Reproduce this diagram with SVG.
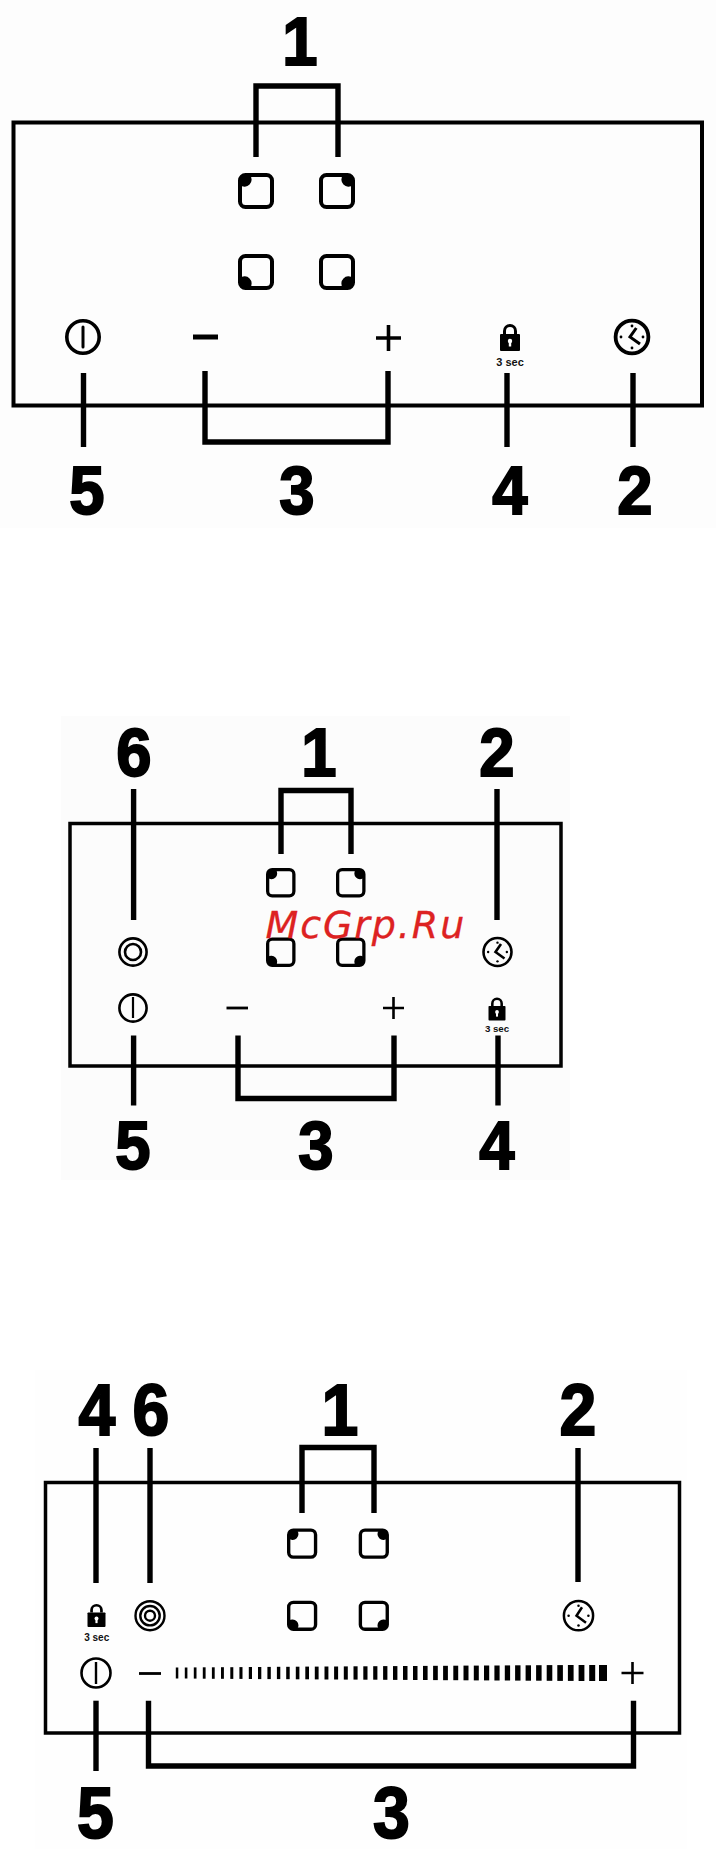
<svg xmlns="http://www.w3.org/2000/svg" width="716" height="1849" viewBox="0 0 716 1849">
<style>
.frame{fill:none;stroke:#000}
.conn{fill:none;stroke:#000;stroke-width:5.4;stroke-miterlimit:10}
.num{font-family:"Liberation Sans",Arial,sans-serif;font-weight:700;font-size:69px;text-anchor:middle;fill:#000;stroke:#000;stroke-width:2px}
.num3{font-size:72px}
.sec{font-family:"Liberation Sans",Arial,sans-serif;font-weight:700;text-anchor:middle;fill:#111}
.ln{fill:none;stroke:#000}
.wm{font-family:"DejaVu Sans",sans-serif;font-style:oblique;font-size:38px;letter-spacing:1.9px;fill:#dd2222;stroke:#dd2222;stroke-width:.3px}
</style>
<defs>
<g id="tile"><rect x="2" y="2" width="32" height="32" rx="5.5" fill="none" stroke="#000" stroke-width="4"/></g>
<path id="dot" d="M2 7A5 5 0 0 1 7 2H12A7.1 7.1 0 0 1 2 12Z" fill="#000"/>
<g id="lock"><path d="M-5.5 0V-3A5.5 5.5 0 0 1 5.5 -3V0" fill="none" stroke="#000" stroke-width="3"/><rect x="-10" y="0" width="20" height="17" rx="1" fill="#000"/><circle cx="0" cy="7" r="2.2" fill="#fff"/><rect x="-1.2" y="7" width="2.4" height="5.5" fill="#fff"/></g>
<g id="clockmarks"><circle cx="0" cy="-11" r="1.4"/><circle cx="0" cy="11" r="1.4"/><circle cx="-11" cy="0" r="1.4"/><circle cx="11" cy="0" r="1.4"/></g>
</defs>
<g id="background">
<rect x="0" y="0" width="716" height="528" fill="#fdfdfd"/>
<rect x="61" y="716" width="509" height="464" fill="#fcfcfc"/>
<rect x="35" y="1370" width="652" height="479" fill="#fefefe"/>
</g>

<g id="diagram-1">
<rect id="d1-frame" class="frame" stroke-width="4" x="13.5" y="122.5" width="688.5" height="283"/>
<g id="d1-tile-1" transform="translate(238,173)"><use href="#tile"/><use href="#dot"/></g>
<g id="d1-tile-2" transform="translate(319,173)"><use href="#tile"/><use href="#dot" transform="rotate(90 18 18)"/></g>
<g id="d1-tile-3" transform="translate(238,254)"><use href="#tile"/><use href="#dot" transform="rotate(270 18 18)"/></g>
<g id="d1-tile-4" transform="translate(319,254)"><use href="#tile"/><use href="#dot" transform="rotate(180 18 18)"/></g>
<g id="d1-power"><circle class="ln" cx="83" cy="337" r="16.2" stroke-width="3.6"/><path class="ln" d="M83 327V347" stroke-width="3" stroke-linecap="round"/></g>
<g id="d1-minus"><path class="ln" d="M193 337H218" stroke-width="5"/></g>
<g id="d1-plus"><path class="ln" d="M376 338H401M388.5 325V351" stroke-width="3.6"/></g>
<g id="d1-lock"><use href="#lock" x="510" y="334"/><text class="sec" x="510" y="366" font-size="11">3 sec</text></g>
<g id="d1-clock" transform="translate(632,337)"><circle class="ln" r="16.4" stroke-width="3.8"/><use href="#clockmarks"/><path class="ln" d="M4.3 -9L-2 0L8 7" stroke-width="3"/></g>
<g id="d1-label-1"><text class="num" transform="translate(300,65) scale(.92,1)">1</text></g>
<g id="d1-label-5"><text class="num" transform="translate(87,514) scale(.92,1)">5</text></g>
<g id="d1-label-3"><text class="num" transform="translate(297,514) scale(.92,1)">3</text></g>
<g id="d1-label-4"><text class="num" transform="translate(510,514) scale(.92,1)">4</text></g>
<g id="d1-label-2"><text class="num" transform="translate(635,514) scale(.92,1)">2</text></g>
</g>

<g id="diagram-2">
<rect id="d2-frame" class="frame" stroke-width="3.5" x="70" y="823.5" width="491" height="242.5"/>
<g id="d2-tile-1" transform="translate(266,868) scale(.82)"><use href="#tile"/><use href="#dot"/></g>
<g id="d2-tile-2" transform="translate(336,868) scale(.82)"><use href="#tile"/><use href="#dot" transform="rotate(90 18 18)"/></g>
<g id="d2-tile-3" transform="translate(266,937.5) scale(.82)"><use href="#tile"/><use href="#dot" transform="rotate(270 18 18)"/></g>
<g id="d2-tile-4" transform="translate(336,937.5) scale(.82)"><use href="#tile"/><use href="#dot" transform="rotate(180 18 18)"/></g>
<g id="d2-rings"><circle class="ln" cx="133" cy="952" r="13.6" stroke-width="2.6"/><circle class="ln" cx="133" cy="952" r="8" stroke-width="2.6"/></g>
<g id="d2-power"><circle class="ln" cx="133" cy="1008" r="13.6" stroke-width="2.6"/><path class="ln" d="M133 997V1018" stroke-width="2.2"/></g>
<g id="d2-minus"><path class="ln" d="M226.5 1008H248" stroke-width="2.8"/></g>
<g id="d2-plus"><path class="ln" d="M383 1008H404M393.5 997V1019" stroke-width="2.6"/></g>
<g id="d2-lock"><use href="#lock" transform="translate(497,1006) scale(.85)"/><text class="sec" x="497" y="1032" font-size="9.7">3 sec</text></g>
<g id="d2-clock" transform="translate(497.5,952)"><circle class="ln" r="14" stroke-width="2.6"/><use href="#clockmarks" transform="scale(.85)"/><path class="ln" d="M3.5 -8L-2 0L7 6.5" stroke-width="2.6"/></g>
<g id="d2-label-6"><text class="num" transform="translate(134,776) scale(.92,1)">6</text></g>
<g id="d2-label-1"><text class="num" transform="translate(319,776) scale(.92,1)">1</text></g>
<g id="d2-label-2"><text class="num" transform="translate(497,776) scale(.92,1)">2</text></g>
<g id="d2-label-5"><text class="num" transform="translate(133,1168.5) scale(.92,1)">5</text></g>
<g id="d2-label-3"><text class="num" transform="translate(316,1168.5) scale(.92,1)">3</text></g>
<g id="d2-label-4"><text class="num" transform="translate(497,1168.5) scale(.92,1)">4</text></g>
</g>

<g id="diagram-3">
<rect id="d3-frame" class="frame" stroke-width="3.5" x="45.5" y="1482.5" width="634" height="250.5"/>
<g id="d3-tile-1" transform="translate(287,1528.5) scale(.84)"><use href="#tile"/><use href="#dot"/></g>
<g id="d3-tile-2" transform="translate(358.7,1528.5) scale(.84)"><use href="#tile"/><use href="#dot" transform="rotate(90 18 18)"/></g>
<g id="d3-tile-3" transform="translate(287,1600.7) scale(.84)"><use href="#tile"/><use href="#dot" transform="rotate(270 18 18)"/></g>
<g id="d3-tile-4" transform="translate(358.7,1600.7) scale(.84)"><use href="#tile"/><use href="#dot" transform="rotate(180 18 18)"/></g>
<g id="d3-lock"><use href="#lock" transform="translate(96.5,1612.5) scale(.9,.85)"/><text class="sec" x="96.7" y="1640.5" font-size="10">3 sec</text></g>
<g id="d3-rings"><circle class="ln" cx="150" cy="1615.7" r="14.5" stroke-width="2.4"/><circle class="ln" cx="150" cy="1615.7" r="9.7" stroke-width="2.4"/><circle class="ln" cx="150" cy="1615.7" r="5" stroke-width="2.4"/></g>
<g id="d3-power"><circle class="ln" cx="96" cy="1673" r="14.5" stroke-width="2.6"/><path class="ln" d="M96 1662V1684" stroke-width="2.4"/></g>
<g id="d3-minus"><path class="ln" d="M139 1673.5H161" stroke-width="2.8"/></g>
<g id="d3-plus"><path class="ln" d="M621.5 1673H643.5M632.5 1662V1684" stroke-width="2.6"/></g>
<g id="d3-clock" transform="translate(578.5,1615.7)"><circle class="ln" r="14.6" stroke-width="2.5"/><use href="#clockmarks" transform="scale(.9)"/><path class="ln" d="M3.5 -8.5L-2 0L7.5 7" stroke-width="2.5"/></g>
<g id="d3-slider" fill="#000">
<rect x="175.8" y="1667.5" width="2.5" height="11"/><rect x="184.8" y="1667.5" width="2.6" height="11"/><rect x="193.8" y="1667.4" width="2.7" height="11.2"/><rect x="202.8" y="1667.3" width="2.8" height="11.4"/><rect x="211.9" y="1667.3" width="2.8" height="11.5"/><rect x="221" y="1667.2" width="2.9" height="11.6"/><rect x="230.3" y="1667.2" width="3" height="11.7"/><rect x="239.4" y="1667.1" width="3.1" height="11.8"/><rect x="248.8" y="1667" width="3.2" height="12"/><rect x="258" y="1667" width="3.3" height="12.1"/>
<rect x="267.4" y="1666.9" width="3.4" height="12.2"/><rect x="276.9" y="1666.8" width="3.4" height="12.3"/><rect x="286.2" y="1666.8" width="3.5" height="12.4"/><rect x="295.8" y="1666.7" width="3.6" height="12.6"/><rect x="305.3" y="1666.6" width="3.7" height="12.7"/><rect x="314.8" y="1666.6" width="3.8" height="12.8"/><rect x="324.5" y="1666.5" width="3.9" height="13"/><rect x="334.1" y="1666.5" width="4" height="13"/><rect x="343.8" y="1666.4" width="4" height="13.2"/><rect x="353.5" y="1666.3" width="4.1" height="13.3"/>
<rect x="363.3" y="1666.3" width="4.2" height="13.4"/><rect x="373.2" y="1666.2" width="4.2" height="13.5"/><rect x="383.1" y="1666.1" width="4.3" height="13.7"/><rect x="393" y="1666.1" width="4.4" height="13.8"/><rect x="403" y="1666" width="4.5" height="13.9"/><rect x="413" y="1666" width="4.5" height="14"/><rect x="423" y="1665.9" width="4.6" height="14.1"/><rect x="433.1" y="1665.8" width="4.7" height="14.3"/><rect x="443.1" y="1665.8" width="4.8" height="14.4"/><rect x="453.3" y="1665.7" width="4.9" height="14.5"/>
<rect x="463.5" y="1665.6" width="5" height="14.7"/><rect x="473.8" y="1665.6" width="5" height="14.8"/><rect x="484" y="1665.5" width="5.2" height="14.9"/><rect x="494.4" y="1665.5" width="5.2" height="15"/><rect x="504.8" y="1665.4" width="5.3" height="15.1"/><rect x="515.1" y="1665.3" width="5.4" height="15.3"/><rect x="525.6" y="1665.3" width="5.4" height="15.4"/><rect x="536.1" y="1665.2" width="5.5" height="15.5"/><rect x="546.7" y="1665.1" width="5.6" height="15.7"/><rect x="557.3" y="1665.1" width="5.6" height="15.8"/>
<rect x="567.9" y="1665" width="5.7" height="15.9"/><rect x="578.6" y="1665" width="5.8" height="16"/><rect x="589.2" y="1665" width="6" height="16"/><rect x="599" y="1665" width="8" height="16"/>
</g>
<g id="d3-label-4"><text class="num num3" transform="translate(97,1435) scale(.92,1)">4</text></g>
<g id="d3-label-6"><text class="num num3" transform="translate(151,1435) scale(.92,1)">6</text></g>
<g id="d3-label-1"><text class="num num3" transform="translate(340,1435) scale(.92,1)">1</text></g>
<g id="d3-label-2"><text class="num num3" transform="translate(578,1435) scale(.92,1)">2</text></g>
<g id="d3-label-5"><text class="num num3" transform="translate(95.5,1837.5) scale(.92,1)">5</text></g>
<g id="d3-label-3"><text class="num num3" transform="translate(391.5,1837.5) scale(.92,1)">3</text></g>
</g>

<g id="connectors">
<path class="conn" d="M256 157V86H338V157"/>
<path class="conn" d="M83.5 373V447M507 373V447M633 373V447"/>
<path class="conn" d="M205 371V442H388V371"/>
<path class="conn" d="M281 854V790.5H351V854"/>
<path class="conn" d="M133.6 789V920M497 789V920"/>
<path class="conn" d="M133.6 1035.5V1105.5M498 1035.5V1105.5"/>
<path class="conn" d="M238 1035.5V1098.5H394V1035.5"/>
<path class="conn" d="M302 1513V1447.5H374V1513"/>
<path class="conn" d="M96 1448V1583M150 1448V1583M578 1448V1582"/>
<path class="conn" d="M96 1700.7V1771"/>
<path class="conn" d="M148.5 1700.7V1766H633.5V1700.7"/>
</g>
<text id="watermark" class="wm" x="265.5" y="938">McGrp.Ru</text>
</svg>
